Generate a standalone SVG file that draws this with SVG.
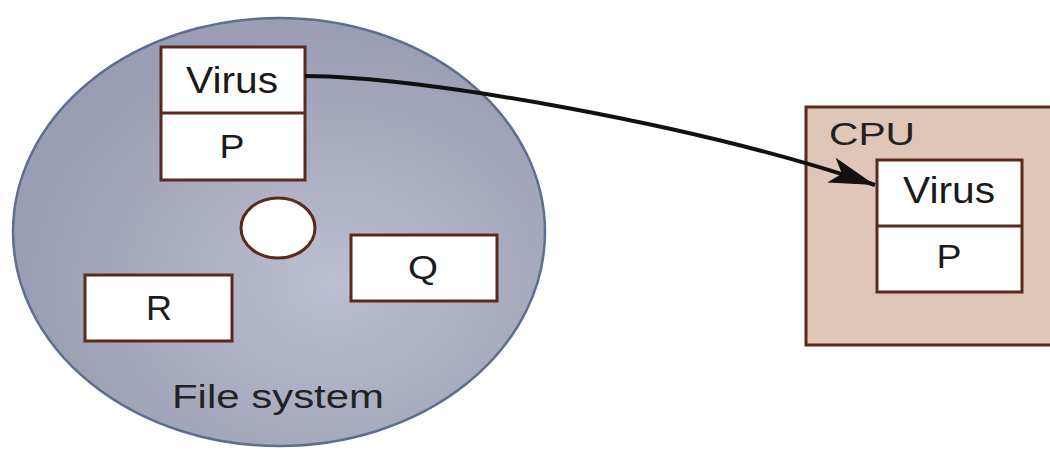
<svg xmlns="http://www.w3.org/2000/svg" width="1050" height="451" viewBox="0 0 1050 451">
<style>
.box{fill:#ffffff;stroke:#5b2a1d;stroke-width:3}
.t{font-family:"Liberation Sans",Arial,sans-serif;fill:#1a1a1a;text-anchor:middle}
.lbl{font-family:"Liberation Sans",Arial,sans-serif;fill:#222222}
.conn{fill:none;stroke:#111111;stroke-width:4}
</style>
<defs>
<radialGradient id="disk" cx="0.6" cy="0.62" r="0.6">
<stop offset="0" stop-color="#bcbfcf"/>
<stop offset="1" stop-color="#9a9db3"/>
</radialGradient>
<marker id="arr" markerUnits="userSpaceOnUse" viewBox="-46 -14 48 28" markerWidth="48" markerHeight="28" refX="0" refY="0" orient="auto">
<path d="M0,0 L-46,-13 L-35,0 L-46,13 Z" fill="#111111"/>
</marker>
</defs>
<g id="filesystem">
<ellipse cx="279" cy="232" rx="266" ry="214" fill="url(#disk)" stroke="#5d6f90" stroke-width="2.5"/>
<text class="lbl" x="278" y="408" font-size="34" text-anchor="middle" textLength="212" lengthAdjust="spacingAndGlyphs">File system</text>
</g>
<g id="hole">
<ellipse cx="278" cy="228" rx="37" ry="30" fill="#ffffff" stroke="#5b2a1d" stroke-width="3"/>
</g>
<g id="disk-virus-p">
<rect class="box" x="161" y="47" width="144" height="133"/>
<line x1="161" y1="113" x2="305" y2="113" stroke="#5b2a1d" stroke-width="3"/>
<text class="t" x="232" y="93" font-size="36" textLength="92" lengthAdjust="spacingAndGlyphs">Virus</text>
<text class="t" x="232" y="158" font-size="34" textLength="25" lengthAdjust="spacingAndGlyphs">P</text>
</g>
<g id="file-r">
<rect class="box" x="85" y="275" width="147" height="66"/>
<text class="t" x="159" y="320" font-size="35" textLength="26" lengthAdjust="spacingAndGlyphs">R</text>
</g>
<g id="file-q">
<rect class="box" x="351" y="235" width="146" height="66"/>
<text class="t" x="423" y="279" font-size="34" textLength="30" lengthAdjust="spacingAndGlyphs">Q</text>
</g>
<g id="cpu">
<rect x="806" y="107" width="250" height="238" fill="#dfc6b6" stroke="#5b2a1d" stroke-width="3"/>
<text class="lbl" x="829" y="145" font-size="31" textLength="86" lengthAdjust="spacingAndGlyphs">CPU</text>
</g>
<g id="cpu-virus-p">
<rect class="box" x="877" y="160" width="145" height="132"/>
<line x1="877" y1="226" x2="1022" y2="226" stroke="#5b2a1d" stroke-width="3"/>
<text class="t" x="949" y="203" font-size="36" textLength="92" lengthAdjust="spacingAndGlyphs">Virus</text>
<text class="t" x="949" y="268" font-size="34" textLength="25" lengthAdjust="spacingAndGlyphs">P</text>
</g>
<g id="connectors">
<path class="conn" d="M305,76 C420,76 700,125 875,185" marker-end="url(#arr)"/>
</g>
</svg>
